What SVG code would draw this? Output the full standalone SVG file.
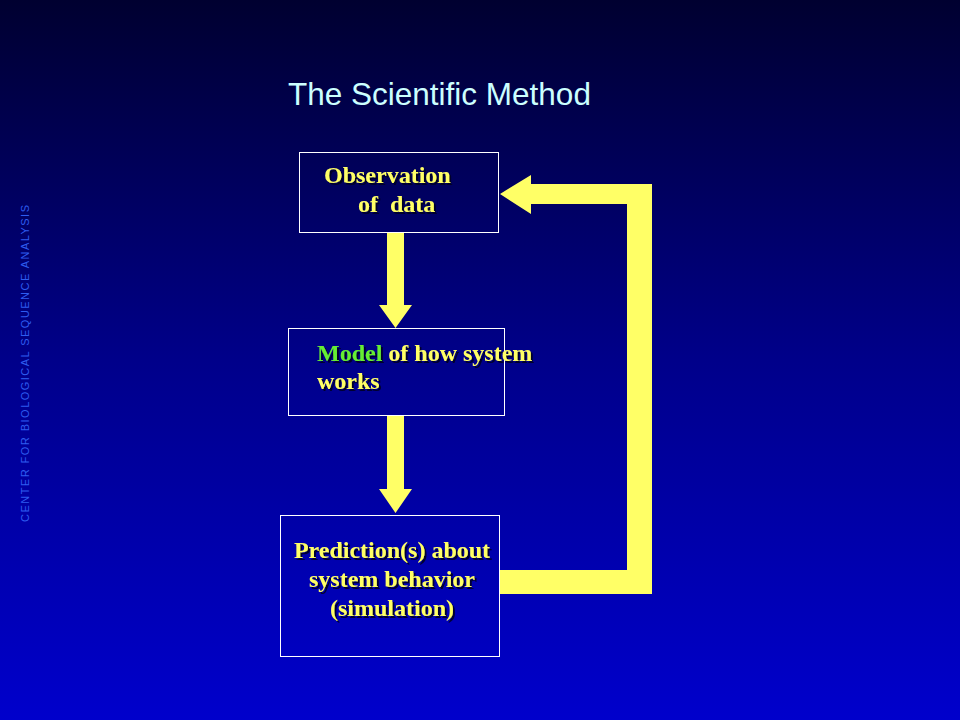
<svg xmlns="http://www.w3.org/2000/svg" width="960" height="720" viewBox="0 0 960 720">
  <defs>
    <linearGradient id="bg" x1="0" y1="0" x2="0" y2="1">
      <stop offset="0" stop-color="#000030"/>
      <stop offset="0.5" stop-color="#00008a"/>
      <stop offset="1" stop-color="#0000cc"/>
    </linearGradient>
    <filter id="shadow" x="-10%" y="-20%" width="120%" height="140%">
      <feDropShadow dx="2" dy="2" stdDeviation="0.5" flood-color="#000022" flood-opacity="0.9"/>
    </filter>
  </defs>
  <style>
    .box { fill: none; stroke: #ffffff; stroke-width: 1; }
    .arrow { fill: #ffff66; }
    .label { font-family: "Liberation Serif", "Times New Roman", serif; font-weight: bold; font-size: 24px; fill: #ffff66; filter: url(#shadow); }
    .title { font-family: "Liberation Sans", Arial, sans-serif; font-size: 31.5px; fill: #ccffff; }
    .side { font-family: "Liberation Sans", Arial, sans-serif; font-size: 11px; fill: #2e5cf0; }
  </style>
  <rect x="0" y="0" width="960" height="720" fill="url(#bg)"/>

  <text class="title" x="288" y="105">The Scientific Method</text>
  <text class="side" transform="translate(29,522) rotate(-90)" textLength="317" lengthAdjust="spacing">CENTER FOR BIOLOGICAL  SEQUENCE  ANALYSIS</text>

  <g id="connectors">
    <polygon class="arrow" points="387,232 404,232 404,305 412,305 395.5,328 379,305 387,305"/>
    <polygon class="arrow" points="387,416 404,416 404,489 412,489 395.5,513 379,489 387,489"/>
    <polygon class="arrow" points="499,570 627,570 627,204 531,204 531,214 500,194 531,175 531,184 652,184 652,594 499,594"/>
  </g>

  <g id="observation">
    <rect class="box" x="299.5" y="152.5" width="199" height="80"/>
    <text class="label" x="324" y="183">Observation</text>
    <text class="label" x="358" y="212" xml:space="preserve">of  data</text>
  </g>

  <g id="model">
    <rect class="box" x="288.5" y="328.5" width="216" height="87"/>
    <text class="label" x="317" y="361"><tspan fill="#66ee33">Model</tspan> of how system</text>
    <text class="label" x="317" y="389">works</text>
  </g>

  <g id="prediction">
    <rect class="box" x="280.5" y="515.5" width="219" height="141"/>
    <text class="label" x="392" y="558" text-anchor="middle">Prediction(s) about</text>
    <text class="label" x="392" y="587" text-anchor="middle">system behavior</text>
    <text class="label" x="392" y="616" text-anchor="middle">(simulation)</text>
  </g>
</svg>
